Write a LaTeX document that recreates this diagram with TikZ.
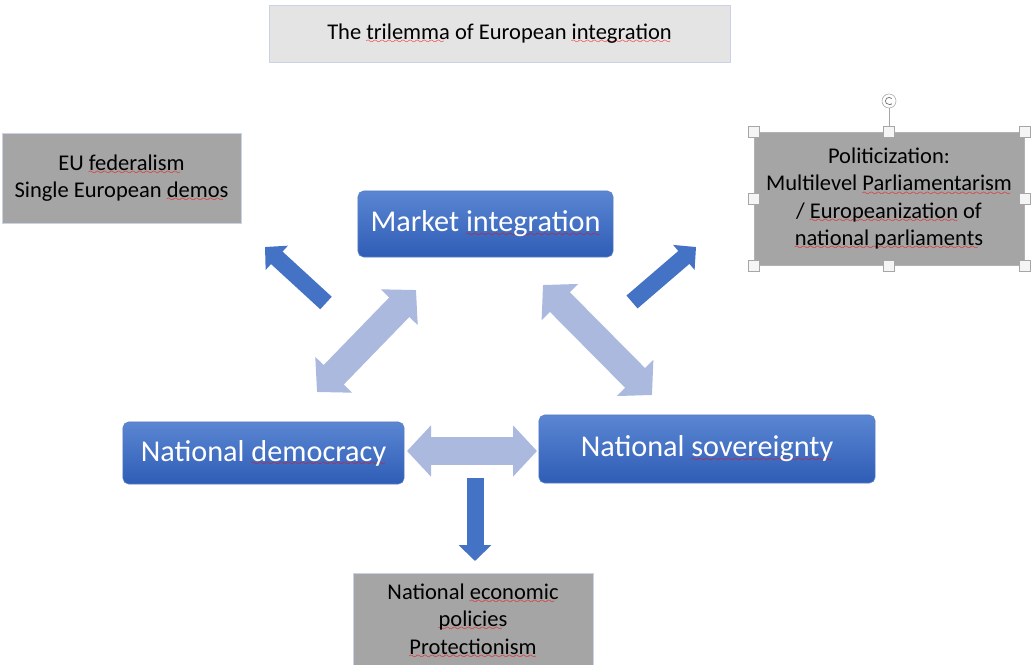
\documentclass[tikz,border=0pt]{standalone}
\usepackage{fontspec}
\setmainfont{Carlito}
\usepackage{xcolor}
\usetikzlibrary{arrows.meta}
\definecolor{boxgray}{HTML}{A5A5A5}
\definecolor{titlegray}{HTML}{E4E4E4}
\definecolor{edgeblue}{HTML}{C9D3E6}
\definecolor{mainblue}{HTML}{4472C4}
\definecolor{topblue}{HTML}{5A86D2}
\definecolor{botblue}{HTML}{2F5DB6}
\definecolor{paleblue}{HTML}{ABB9DF}
\font\wavefont=lasy6
\newcommand\spell[1]{\setbox0=\hbox{#1}\rlap{\raisebox{-3pt}[0pt][0pt]{\hbox to \wd0{\color{red}\leaders\hbox{\wavefont\char58}\hfill}}}\box0\relax}

\tikzset{
graybox/.style={draw=edgeblue, fill=boxgray, align=center, font=\fontsize{16}{19.5}\selectfont, inner sep=0pt},
bluebox/.style={rounded corners=4pt, top color=topblue, bottom color=botblue, draw=botblue!80, text=white, font=\fontsize{21.5}{25}\selectfont, inner sep=0pt},
darkarrow/.style={draw=mainblue, line width=0.425cm, -{Triangle[length=0.4cm, width=0.8cm]}},
palearrow/.style={draw=paleblue, line width=0.7cm, {Triangle[length=0.6cm, width=1.25cm]}-{Triangle[length=0.6cm, width=1.25cm]}},
handle/.style={draw=gray!70, fill=gray!8, minimum size=0.275cm, inner sep=0pt}
}

\begin{document}
\begin{tikzpicture}[x=0.025cm, y=-0.025cm]
\useasboundingbox (0,0) rectangle (1032,664);

% boxes
\node[graybox, fill=titlegray, minimum width=11.525cm, minimum height=1.425cm] (title) at (499.5,33.5) {The \spell{trilemma} of European \spell{integration}};
\node[graybox, minimum width=5.975cm, minimum height=2.25cm] (fed) at (121.5,178) {EU \spell{federalism}\\Single European \spell{demos}};
\node[graybox, draw=gray!60, minimum width=6.75cm, minimum height=3.325cm] (pol) at (889,198.5) {Politicization:\\Multilevel \spell{Parliamentarism}\\/ \spell{Europeanization} of\\\spell{national parliaments}};
\node[graybox, minimum width=6cm, minimum height=2.3cm] (prot) at (473,619) {National \spell{economic}\\\spell{policies}\\\spell{Protectionism}};

\node[bluebox, minimum width=6.375cm, minimum height=1.65cm] (market) at (485.5,224) {Market \spell{integration}};
\node[bluebox, minimum width=7.025cm, minimum height=1.55cm] (dem) at (263.5,453) {National \spell{democracy}};
\node[bluebox, minimum width=8.4cm, minimum height=1.7cm] (sov) at (707,449) {National \spell{sovereignty}};

% arrows
\coordinate (ulA) at (326,303);
\coordinate (ulB) at (265,247);
\coordinate (urA) at (632,302);
\coordinate (urB) at (696,247);
\coordinate (dnA) at (475,478);
\coordinate (dnB) at (475,561);
\coordinate (lfA) at (317,392);
\coordinate (lfB) at (416,290);
\coordinate (rtA) at (543,285);
\coordinate (rtB) at (652,395);
\coordinate (hzA) at (407,451);
\coordinate (hzB) at (537,451);
\draw[darkarrow] (ulA) -- (ulB);
\draw[darkarrow] (urA) -- (urB);
\draw[darkarrow] (dnA) -- (dnB);
\draw[palearrow] (lfA) -- (lfB);
\draw[palearrow] (rtA) -- (rtB);
\draw[palearrow] (hzA) -- (hzB);

% selection handles
\node[circle, draw=gray!70, fill=white, minimum size=0.35cm, inner sep=0pt] (rot) at (889,101) {};
\draw[gray!70] (rot) -- (pol.north);
\draw[gray!90!black, line width=0.5pt, -{Stealth[length=1.5pt]}] (rot.center) ++(40:0.09cm) arc (40:320:0.09cm);
\foreach \a in {north west,north,north east,east,south east,south,south west,west}
  \node[handle] at (pol.\a) {};
\end{tikzpicture}
\end{document}
